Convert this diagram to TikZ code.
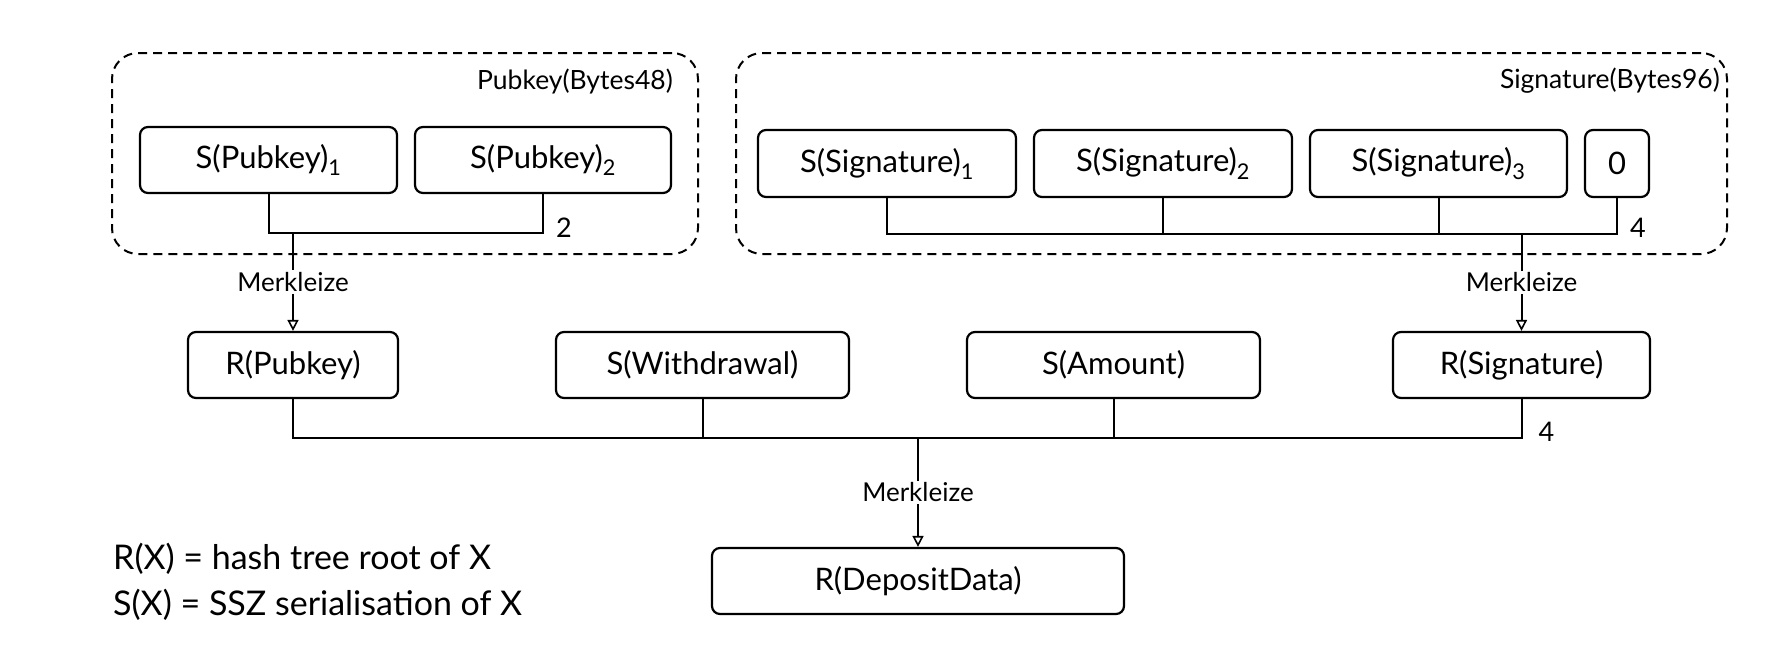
\documentclass[tikz,border=0pt]{standalone}
\usepackage{fontspec}
\setmainfont{Lato}
\usetikzlibrary{arrows.meta}
\tikzset{
  box/.style={draw, line width=2.2pt, rounded corners=8pt, inner sep=0pt, font=\fontsize{31}{35}\selectfont},
  grp/.style={draw, line width=2pt, dash pattern=on 9pt off 6pt, rounded corners=26pt, inner sep=0pt},
  ttl/.style={font=\fontsize{26.5}{30}\selectfont, inner sep=0pt},
  num/.style={font=\fontsize{27}{30}\selectfont, inner sep=0pt, anchor=west},
  conn/.style={line width=2pt},
  arr/.style={line width=2pt, -{Triangle[open, length=11pt, width=11pt, line width=1.6pt]}},
  mlab/.style={font=\fontsize{26}{30}\selectfont, fill=white, inner sep=2pt},
  legend/.style={font=\fontsize{34}{38}\selectfont, anchor=west, inner sep=0pt}
}
\begin{document}
\begin{tikzpicture}[x=1pt,y=-1pt]
\useasboundingbox (0,0) rectangle (1772,664);
% groups
\node[grp, minimum width=586pt, minimum height=201pt] (pg) at (405,153.5) {};
\node[grp, minimum width=991pt, minimum height=201pt] (sg) at (1231.5,153.5) {};
\node[ttl, anchor=east] (pgt) at (673,81) {Pubkey(Bytes48)};
\node[ttl, anchor=east] (sgt) at (1720,81) {Signature(Bytes96)};
% pubkey chunks
\node[box, minimum width=257pt, minimum height=66pt] (p1) at (268.5,160) {S(Pubkey)\textsubscript{1}};
\node[box, minimum width=256pt, minimum height=66pt] (p2) at (543,160) {S(Pubkey)\textsubscript{2}};
% signature chunks
\node[box, minimum width=258pt, minimum height=67pt] (s1) at (887,163.5) {S(Signature)\textsubscript{1}};
\node[box, minimum width=258pt, minimum height=67pt] (s2) at (1163,163.5) {S(Signature)\textsubscript{2}};
\node[box, minimum width=257pt, minimum height=67pt] (s3) at (1438.5,163.5) {S(Signature)\textsubscript{3}};
\node[box, minimum width=64pt, minimum height=67pt] (s4) at (1617,163.5) {0};
% second row
\node[box, minimum width=210pt, minimum height=66pt] (rp) at (293,365) {R(Pubkey)};
\node[box, minimum width=293pt, minimum height=66pt] (sw) at (702.5,365) {S(Withdrawal)};
\node[box, minimum width=293pt, minimum height=66pt] (sa) at (1113.5,365) {S(Amount)};
\node[box, minimum width=257pt, minimum height=66pt] (rs) at (1521.5,365) {R(Signature)};
% root
\node[box, minimum width=412pt, minimum height=66pt] (rd) at (918,581) {R(DepositData)};
% bus levels
\coordinate (pbar) at (0,233);
\coordinate (sbar) at (0,234);
\coordinate (bus) at (0,438);
% pubkey bracket
\draw[conn] (p1.south) -- (p1.south |- pbar) -- (p2.south |- pbar) -- (p2.south);
\node[num] (n2) at ([xshift=13pt,yshift=5pt]p2.south |- pbar) {2};
\draw[arr] (rp.north |- pbar) -- (rp.north) node[mlab, midway] (m1) {Merkleize};
% signature bracket
\draw[conn] (s1.south) -- (s1.south |- sbar) -- (s4.south |- sbar) -- (s4.south);
\draw[conn] (s2.south) -- (s2.south |- sbar);
\draw[conn] (s3.south) -- (s3.south |- sbar);
\node[num] (n4a) at ([xshift=13pt,yshift=6pt]s4.south |- sbar) {4};
\draw[arr] (rs.north |- sbar) -- (rs.north) node[mlab, midway] (m2) {Merkleize};
% main bus
\draw[conn] (rp.south) -- (rp.south |- bus) -- (rs.south |- bus) -- (rs.south);
\draw[conn] (sw.south) -- (sw.south |- bus);
\draw[conn] (sa.south) -- (sa.south |- bus);
\node[num] (n4b) at ([xshift=17pt,yshift=6pt]rs.south |- bus) {4};
\draw[arr] (rd.north |- bus) -- (rd.north) node[mlab, midway] (m3) {Merkleize};
% legend
\node[legend] (l1) at (113,559) {R(X) = hash tree root of X};
\node[legend] (l2) at (113,605) {S(X) = SSZ serialisation of X};
\end{tikzpicture}
\end{document}
